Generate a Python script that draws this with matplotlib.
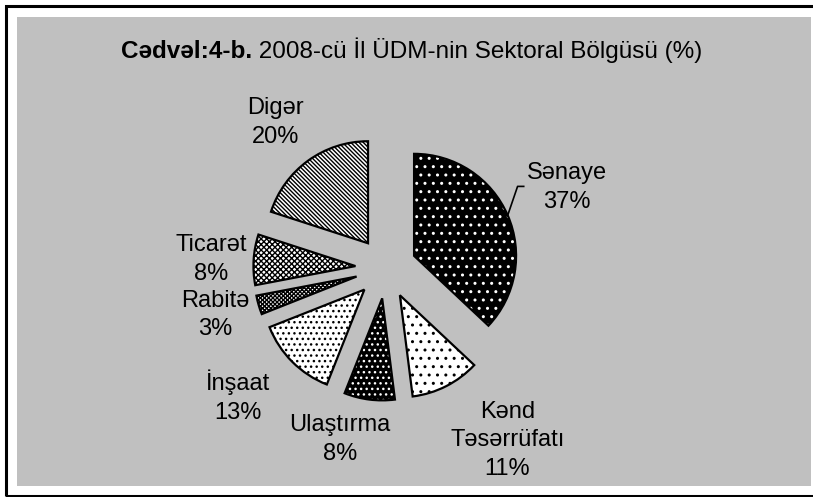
import numpy as np
import matplotlib
matplotlib.use("Agg")
import matplotlib.pyplot as plt
from matplotlib.patches import Rectangle

# data
sectors = ['Sənaye', 'Kənd\nTəsərrüfatı', 'Ulaştırma', 'İnşaat', 'Rabitə', 'Ticarət', 'Digər']
shares = [37, 11, 8, 13, 3, 8, 20]

# look of every slice: fill, hatch, hatch colour
BS = chr(92)
faces = ['black', 'white', 'black', 'white', 'white', 'white', 'white']
hatches = ['..', '..', '...', '...', 'x' * 8, 'x' * 6, BS * 8]
hatch_cols = ['white', 'black', 'white', 'black', 'black', 'black', 'black']

# label block centres, in pie radii from the pie centre
label_pos = [(1.77, 0.79), (1.19, -1.69), (-0.45, -1.68), (-1.45, -1.26),
             (-1.67, -0.46), (-1.71, 0.08), (-1.08, 1.43)]

plt.rcParams['font.family'] = ['Liberation Sans', 'DejaVu Sans']
plt.rcParams['hatch.linewidth'] = 1.0

W, H = 813, 497
fig = plt.figure(figsize=(W / 100, H / 100), dpi=100)
fig.patch.set_facecolor('white')

# grey panel + black frame (right side runs off the picture)
fig.patches.append(Rectangle((17 / W, 11 / H), 794 / W, 469 / H, transform=fig.transFigure,
                             facecolor='#c0c0c0', edgecolor='none', zorder=-2))
fig.patches.append(Rectangle((5.5 / W, 1.5 / H), 820 / W, 490 / H, transform=fig.transFigure,
                             fill=False, edgecolor='black', linewidth=2.2, zorder=-1))

ax = fig.add_axes([0, 0, 1, 1])
explode = [0.3] * len(shares)
wedges, _ = ax.pie(shares, explode=explode, startangle=90, counterclock=False,
                   colors=faces, wedgeprops=dict(linewidth=0))
for w, h, c in zip(wedges, hatches, hatch_cols):
    w.set_hatch(h)
    w.set_edgecolor(c)
# outlines on top
ax.pie(shares, explode=explode, startangle=90, counterclock=False,
       wedgeprops=dict(fill=False, edgecolor='black', linewidth=1.6))

cx, cy, R = 386, 229, 102
ax.set_xlim(-cx / R, (W - cx) / R)
ax.set_ylim(-cy / R, (H - cy) / R)
ax.set_aspect('auto')
ax.axis('off')

for name, p, (x, y) in zip(sectors, shares, label_pos):
    ax.text(x, y, f'{name}\n{p}%', ha='center', va='center', fontsize=17, linespacing=1.4)

# leader line for Sənaye
w0 = wedges[0]
mid = np.deg2rad((w0.theta1 + w0.theta2) / 2)
x0 = w0.center[0] + w0.r * np.cos(mid)
y0 = w0.center[1] + w0.r * np.sin(mid)
ax.plot([x0, 1.29, 1.35], [y0, 0.80, 0.80], color='black', lw=1.2)

# title: bold prefix + normal text, centred together
ty = 1 - 58 / H
t1 = fig.text(0, ty, 'Cədvəl:4-b.', fontsize=17.5, fontweight='bold', va='baseline')
t2 = fig.text(0, ty, ' 2008-cü İl ÜDM-nin Sektoral Bölgüsü (%)', fontsize=17.5, va='baseline')
rend = fig.canvas.get_renderer()
w1 = t1.get_window_extent(rend).width
w2 = t2.get_window_extent(rend).width
left = 412 - (w1 + w2) / 2
t1.set_x(left / W)
t2.set_x((left + w1) / W)

fig.savefig('out.png', dpi=100)
